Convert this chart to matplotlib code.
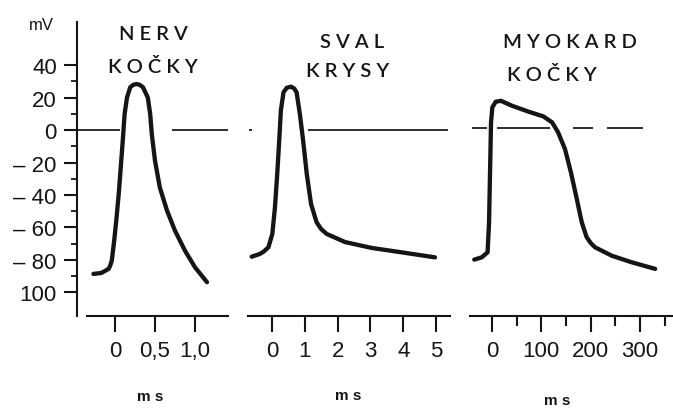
import matplotlib
matplotlib.use('Agg')
import matplotlib.pyplot as plt

# Akční potenciály: nerv kočky, sval krysy, myokard kočky
# čas v ms, membránový potenciál v mV

nerv_t = [-0.27, -0.17, -0.08, -0.06, -0.04, -0.01, 0.02, 0.05, 0.075, 0.10, 0.12,
          0.15, 0.19, 0.23, 0.27, 0.31, 0.35, 0.41, 0.44, 0.46, 0.50, 0.56, 0.65,
          0.75, 0.875, 1.0, 1.15]
nerv_mv = [-88.6, -88, -85.5, -83.5, -80.4, -68, -53.7, -37.3, -21, -4.5, 9.8,
           20, 26.3, 27.9, 28.3, 27.8, 26.3, 20, 9.8, -2.5, -18.9, -35.3, -49.6,
           -62, -74.3, -84.5, -93.7]

sval_t = [-0.62, -0.37, -0.25, -0.11, 0.01, 0.09, 0.16, 0.22, 0.27, 0.35, 0.45,
          0.58, 0.68, 0.75, 0.85, 0.95, 1.06, 1.19, 1.36, 1.50, 1.67, 2.23, 3.04,
          3.95, 4.97]
sval_mv = [-78, -76.3, -74.8, -72.2, -64, -47.6, -27, -6.6, 11.9, 23.2, 26.0,
           26.7, 25.5, 23.2, 9.8, -6.6, -27, -45.5, -56.8, -61, -64, -69, -72.6,
           -75.3, -78.4]

myo_t = [-36, -21, -9, -6, -4, -2, 0.7, 7.5, 18, 40, 74, 104, 122, 134, 148,
         160, 172, 182, 192, 200, 209, 243, 283, 331]
myo_mv = [-79.8, -78.4, -75.3, -56.8, -26, 4.7, 14, 17.4, 18, 15, 11.3, 8.4, 4.7,
          -1.4, -11.7, -26, -42.5, -56.8, -66, -69.5, -72.2, -77.4, -81.4, -85.5]

# nulová linie (přerušená kolem křivek)
nerv_zero = [(-0.475, 0.06), (0.71, 1.41)]
sval_zero = [(-0.70, -0.61), (1.11, 5.37)]
myo_zero = [(-40, -10), (10, 118), (164, 205), (233, 306)]
myo_zero_level = 1.5

y_ticks = [40, 20, 0, -20, -40, -60, -80, -100]
y_labels = ['40', '20', '0', '\u2013 20', '\u2013 40', '\u2013 60', '\u2013 80', '100']
y_minor = [30, 10, -10, -30, -50, -70, -90]

nerv_xticks = [0, 0.5, 1.0]
nerv_xlabels = ['0', '0,5', '1,0']
sval_xticks = [0, 1, 2, 3, 4, 5]
sval_xlabels = ['0', '1', '2', '3', '4', '5']
myo_xticks = [0, 100, 200, 300]
myo_xlabels = ['0', '100', '200', '300']
myo_xminor = [50, 150, 250, 350]

W, H = 673, 410
INK = '#151515'
NUM_FONT = ['Liberation Sans', 'DejaVu Sans']
TITLE_FONT = ['Lato', 'DejaVu Sans']


def px_box(x0, x1, y0, y1):
    return [x0 / W, 1 - y1 / H, (x1 - x0) / W, (y1 - y0) / H]


def spaced(word):
    # prostrkaný text (mezera 1/4 em)
    return '\u2005'.join(word)


fig = plt.figure(figsize=(W / 100, H / 100), dpi=100)

panels = [
    (px_box(77, 232, 23, 317), (-0.475, 1.4625), (-0.35, 1.41),
     nerv_t, nerv_mv, nerv_zero, 0, nerv_xticks, nerv_xlabels, []),
    (px_box(245, 452, 23, 317), (-0.823, 5.488), (-0.73, 5.43),
     sval_t, sval_mv, sval_zero, 0, sval_xticks, sval_xlabels, []),
    (px_box(468, 673, 23, 317), (-48.7, 367.1), (-44.6, 367.1),
     myo_t, myo_mv, myo_zero, myo_zero_level, myo_xticks, myo_xlabels, myo_xminor),
]

axes = []
for box, xlim, xbounds, t, mv, zero, zlev, xt, xl, xminor in panels:
    ax = fig.add_axes(box)
    ax.set_xlim(*xlim)
    ax.set_ylim(-114.5, 66.5)
    ax.patch.set_alpha(0)

    for x0, x1 in zero:
        ax.hlines(zlev, x0, x1, color='#2e2e2e', linewidth=1.4)
    ax.plot(t, mv, color=INK, linewidth=3.1, solid_capstyle='round',
            solid_joinstyle='round')

    for side in ['top', 'right', 'left']:
        ax.spines[side].set_visible(False)
    ax.spines['bottom'].set_bounds(*xbounds)
    ax.spines['bottom'].set_linewidth(1.5)
    ax.spines['bottom'].set_color(INK)

    ax.set_xticks(xt)
    ax.set_xticklabels(xl, fontsize=16, family=NUM_FONT, color=INK)
    ax.set_xticks(xminor, minor=True)
    ax.tick_params(axis='x', which='major', direction='out', length=11.5,
                   width=1.5, pad=6, color=INK)
    ax.tick_params(axis='x', which='minor', direction='out', length=7,
                   width=1.5, color=INK)
    ax.set_yticks([])
    axes.append(ax)

# svislá osa mV jen u prvního panelu
ax = axes[0]
ax.spines['left'].set_visible(True)
ax.spines['left'].set_bounds(-114.5, 66.5)
ax.spines['left'].set_linewidth(1.5)
ax.spines['left'].set_color(INK)
ax.set_yticks(y_ticks)
ax.set_yticklabels(y_labels, fontsize=16, family=NUM_FONT, color=INK)
ax.set_yticks(y_minor, minor=True)
ax.tick_params(axis='y', which='major', direction='out', length=9.5,
               width=1.5, pad=5, color=INK)
ax.tick_params(axis='y', which='minor', direction='out', length=4,
               width=1.3, color=INK)

fig.text(41 / W, 1 - 25 / H, 'mV', fontsize=12, family=NUM_FONT, color=INK,
         ha='center', va='center')

# popisky panelů
titles = [
    ('NERV', 153, 35), ('KOČKY', 153, 67),
    ('SVAL', 352, 42), ('KRYSY', 348, 72),
    ('MYOKARD', 570, 43), ('KOČKY', 552, 75),
]
for word, x, y in titles:
    fig.text(x / W, 1 - y / H, spaced(word), fontsize=14.5, family=TITLE_FONT,
             fontweight='semibold', color=INK, ha='center', va='center')

for x, y in [(150, 397), (348, 396), (557, 401)]:
    fig.text(x / W, 1 - y / H, 'm s', fontsize=11, family=NUM_FONT,
             fontweight='bold', color=INK, ha='center', va='center')

fig.savefig('out.png', dpi=100, facecolor='white')
plt.close(fig)
